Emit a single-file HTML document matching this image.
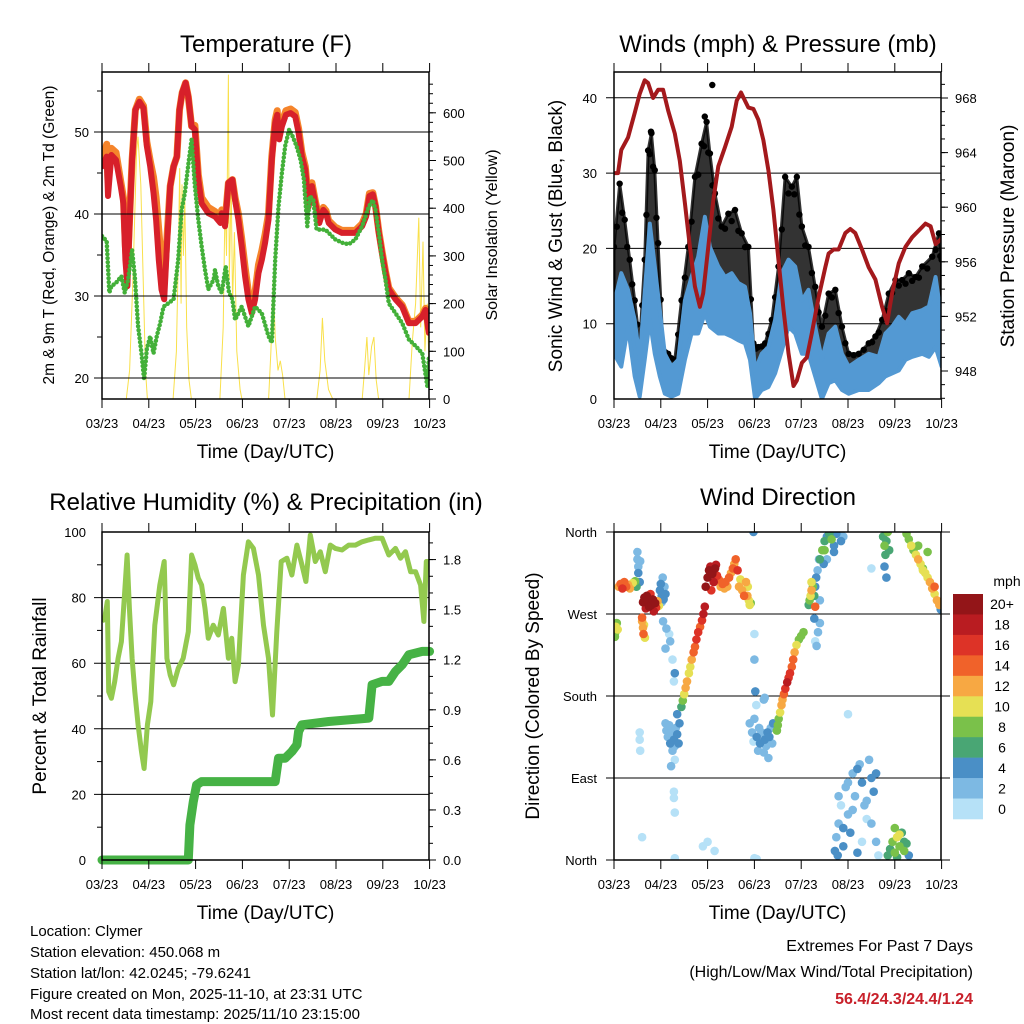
<!DOCTYPE html>
<html><head><meta charset="utf-8"><style>
html,body{margin:0;padding:0;background:#fff;}
svg{display:block;font-family:"Liberation Sans",Arial,sans-serif;}
</style></head><body>
<svg id="fig" width="1024" height="1024" viewBox="0 0 1024 1024" xmlns="http://www.w3.org/2000/svg">
<defs>
<clipPath id="c1"><rect x="102" y="72" width="327" height="327"/></clipPath>
<clipPath id="c2"><rect x="614" y="72" width="327" height="327"/></clipPath>
<clipPath id="c3"><rect x="102" y="532" width="327" height="328"/></clipPath>
<clipPath id="c4"><rect x="614" y="532" width="327" height="328"/></clipPath>
</defs>
<g id="p1"></g>
<g id="p2"></g>
<g id="p3"></g>
<g id="p4"></g>
<g font-size="15">
<text x="30" y="936">Location: Clymer</text>
<text x="30" y="957">Station elevation: 450.068 m</text>
<text x="30" y="978">Station lat/lon: 42.0245; -79.6241</text>
<text x="30" y="999">Figure created on Mon, 2025-11-10, at 23:31 UTC</text>
<text x="30" y="1019">Most recent data timestamp: 2025/11/10 23:15:00</text>
</g>
<g font-size="16" text-anchor="end">
<text x="973" y="951">Extremes For Past 7 Days</text>
<text x="973" y="977">(High/Low/Max Wind/Total Precipitation)</text>
<text x="973" y="1004" fill="#c8202a" font-weight="bold">56.4/24.3/24.4/1.24</text>
</g>
</svg>
<script>
// ---------- DATA ----------
const dayLabels = ["03/23","04/23","05/23","06/23","07/23","08/23","09/23","10/23"];
const tempTicks = [20,30,40,50];
const solarTicks = [0,100,200,300,400,500,600];
const windTicks = [0,10,20,30,40];
const presTicks = [948,952,956,960,964,968];
const rhTicks = [0,20,40,60,80,100];
const precipTicks = [0.0,0.3,0.6,0.9,1.2,1.5,1.8];
const dirTicks = [0,90,180,270,360];
const dirTickLabels = ["North","East","South","West","North"];
const speedBinLabels = ["20+","18","16","14","12","10","8","6","4","2","0"];
const speedBinColors = ["#931518","#b91c21","#dd3327","#f0622a","#f7a843","#e6e054","#7ac14a","#49a674","#4a8fc6","#7db9e3","#b6e1f7"];

const tempTime = [0,0.1,0.129,0.2,0.3,0.4,0.457,0.5,0.543,0.6,0.643,0.714,0.8,0.886,0.957,1.029,1.1,1.157,1.214,1.271,1.329,1.386,1.457,1.529,1.6,1.657,1.714,1.786,1.843,1.914,1.986,2.057,2.129,2.271,2.414,2.529,2.557,2.629,2.7,2.786,2.843,2.914,2.986,3.057,3.129,3.2,3.271,3.343,3.414,3.486,3.557,3.629,3.7,3.743,3.786,3.843,3.929,4.029,4.129,4.2,4.271,4.343,4.414,4.486,4.557,4.643,4.729,4.786,4.843,4.986,5.129,5.271,5.414,5.557,5.643,5.714,5.786,5.843,5.914,5.986,6.057,6.129,6.271,6.414,6.557,6.7,6.843,6.914,6.986];
const temp2m = [45.8,47,42.2,47.2,46.6,43.4,41.3,34.4,31.2,40.5,46.6,52.7,53.7,52.9,48.3,45.8,42.6,39.3,34.4,30.8,29.6,36.1,43.4,45.8,47,52.7,54.8,56,54.3,50.7,50.3,44.2,41.3,40.1,39.7,38.9,40.1,38.5,43.8,44.2,41.7,39.3,36.1,32.4,29.6,27.9,29.6,32.8,34.4,36.5,39.3,46.6,51.1,52.1,49.1,50.7,52.1,52.3,51.9,49.9,47,45.4,40.9,43.4,41.3,38.9,40.5,40.1,38.9,38.1,37.7,37.7,37.7,38.5,39.7,42.2,42.4,40.9,37.7,35.2,32.8,30.8,29.6,28.7,26.7,26.7,27.5,28.3,25.5];
const temp9m = [46.5,48.5,44,48,47.5,44,42,36,33,41,46.6,52.7,54,53.2,48.8,46.5,44.5,42,38,34,31.5,37,43.4,45.8,47,52.7,54.8,56,54.3,50.7,50.8,44.8,42,40.8,40.3,39.5,40.5,39,43.8,44.2,42,40,37,33.5,30.5,28.8,30.5,33.8,35.5,37.5,40,47,51.5,52.6,49.6,51.2,52.6,52.8,52.4,50.4,47.5,45.8,41.5,43.8,41.6,39.3,40.8,40.4,39.2,38.4,38,38,38,38.8,40,42.5,42.6,41,37.9,35.4,33,31,29.8,28.9,26.9,26.9,27.7,28.5,25.7];
const dewTime = [0,0.1,0.157,0.2,0.3,0.414,0.486,0.557,0.643,0.7,0.771,0.843,0.9,0.957,1.029,1.1,1.171,1.243,1.314,1.414,1.529,1.629,1.7,1.771,1.857,1.914,1.986,2.057,2.129,2.2,2.271,2.386,2.414,2.486,2.557,2.643,2.714,2.786,2.843,2.986,3.129,3.271,3.414,3.557,3.629,3.7,3.771,3.843,3.914,4,4.071,4.157,4.243,4.314,4.386,4.443,4.514,4.586,4.671,4.771,4.843,4.986,5.129,5.271,5.414,5.557,5.7,5.786,5.843,5.914,5.986,6.057,6.129,6.271,6.414,6.557,6.7,6.843,6.95,6.986];
const dew2m = [37.3,36.7,30.4,31.2,31.6,32.4,30.4,32,35.6,32.4,26.3,23,19.8,23.5,25.1,23,25.1,26.7,28.7,29.1,29.6,34.4,40.5,42.6,46.6,49.1,43.4,39.3,36.1,33.2,30.8,32,33.2,31.2,30.4,33.6,30.4,29.6,27.1,28.7,26.3,28.7,27.9,25.1,24.3,34.4,40.9,45,48.3,50.3,49.5,48.3,46.6,44.2,38.5,42.2,41.7,38.1,38.1,38.1,37.7,36.9,36.5,36.3,36.9,38.5,40.9,41.7,40.5,37.7,34.4,32,29.1,27.9,26.7,24.7,23.9,23,19,22.6];
const solarTime = [0,0.52,0.59,0.66,0.74,0.77,0.83,0.88,0.93,0.97,1.52,1.59,1.63,1.66,1.69,1.71,1.74,1.77,1.81,1.86,1.91,2.52,2.59,2.63,2.66,2.7,2.72,2.76,2.79,2.83,2.88,2.95,2.99,3.56,3.61,3.66,3.7,3.76,3.81,3.86,3.91,4.59,4.66,4.71,4.76,4.84,4.93,5.56,5.61,5.66,5.7,5.76,5.81,5.86,5.91,6.56,6.63,6.7,6.77,6.81,6.86,6.9,6.95,6.99];
const solarVal = [0,0,60,250,520,550,450,250,60,0,0,100,300,484,200,450,300,420,150,40,0,0,150,420,300,680,250,450,200,350,100,20,0,0,100,250,130,60,80,50,0,0,60,170,80,20,0,0,60,130,50,110,130,40,0,0,120,200,380,150,330,100,200,60];

const presTime = [0,0.086,0.157,0.3,0.443,0.55,0.657,0.729,0.836,0.943,1.05,1.157,1.3,1.407,1.514,1.621,1.729,1.836,1.907,2.014,2.121,2.229,2.371,2.514,2.621,2.714,2.8,2.871,2.979,3.086,3.193,3.3,3.407,3.514,3.621,3.729,3.836,3.907,4.014,4.121,4.229,4.371,4.514,4.586,4.693,4.8,4.943,5.05,5.157,5.3,5.443,5.586,5.729,5.836,5.943,6.086,6.229,6.371,6.514,6.657,6.764,6.871,7];
const presVal = [962.5,962.5,964.2,965.1,966.9,968.3,969.3,969.1,968,968.6,968.6,967.1,965.4,963.4,960.3,957.1,954.2,952.7,953.7,957.1,960.5,963,964.4,965.9,967.8,968.4,967.8,967.3,967.2,966.4,964.9,962.7,959.8,956.1,952.5,949.3,946.9,947.3,948.6,949,950.8,953.4,955.6,956.6,956.9,956.9,958.1,958.4,958.1,956.9,955.6,954.7,952.7,951.5,953.7,955.9,957.1,957.8,958.3,958.8,958.6,957.3,957.7];
const windTime = [0,0.157,0.3,0.443,0.55,0.657,0.764,0.871,0.979,1.086,1.229,1.371,1.514,1.657,1.8,1.943,2.05,2.229,2.371,2.514,2.657,2.8,2.907,3.014,3.157,3.3,3.443,3.586,3.729,3.871,4.014,4.157,4.3,4.443,4.586,4.729,4.871,5.014,5.229,5.443,5.657,5.8,5.943,6.086,6.229,6.371,6.586,6.729,6.871,7];
const windHi = [12.7,16.7,14.5,10.5,5.2,14,23.3,17.6,11.8,6,4.3,5.2,13.1,16.2,18.9,24.2,20.2,17.6,16.2,16.7,15.4,14.9,11.4,3.8,6,6.9,10.5,16.7,18.5,17.6,13.1,14.5,9.6,5.2,8.7,9.6,6,4.3,5.2,6,5.6,8.7,9.6,10.9,10,11.4,11.8,12.3,16.2,10.5];
const windLo = [6,4.3,9.6,3,0.3,5.2,10.5,6,3,0.7,0.3,0.7,5.2,8.7,8.7,11.4,9.6,8.7,8.7,8.3,7.8,7.4,5.2,0,1.2,1.6,3.4,6.4,9.6,8.7,6,6,3,0,2.1,2.5,1.2,0.7,1.2,1.2,2.1,3,3.4,3.8,5.2,5.6,6,5.6,6.9,4.3];
const gustTime = [0,0.121,0.229,0.336,0.443,0.55,0.657,0.729,0.8,0.871,0.943,1.05,1.157,1.3,1.443,1.586,1.729,1.871,1.979,2.05,2.157,2.3,2.443,2.586,2.729,2.871,2.979,3.086,3.229,3.371,3.514,3.657,3.8,3.907,4.014,4.157,4.3,4.443,4.586,4.729,4.871,5.014,5.229,5.443,5.586,5.729,5.871,6.014,6.157,6.3,6.443,6.586,6.8,6.943,7];
const gustHi = [20.2,28.6,23.8,18.5,13.1,7.4,18.5,33,35.3,30.4,20.7,6.5,6,5.2,13.1,20.2,29.5,33.9,36.8,32.6,27.3,22.9,24.6,25.1,22,20.2,7.4,6.9,7.4,10.5,17.6,29.5,28.2,29.5,22.9,20.2,14.9,9.6,14,14.5,9.6,6,6,7.4,8.3,10.5,14,15.8,15.8,16.7,16.2,17.6,18.9,22,18.5];
const gustOutT = [2.1,0.79,1.94];
const gustOutV = [41.7,35.5,37.5];

const rhTime = [0,0.057,0.114,0.143,0.2,0.271,0.343,0.414,0.486,0.536,0.586,0.643,0.7,0.771,0.843,0.9,0.971,1.043,1.129,1.236,1.329,1.386,1.457,1.529,1.629,1.736,1.843,1.914,1.986,2.057,2.129,2.2,2.271,2.379,2.486,2.593,2.7,2.771,2.843,2.914,3.021,3.129,3.236,3.343,3.45,3.557,3.643,3.736,3.829,3.95,4.057,4.164,4.271,4.357,4.45,4.557,4.664,4.771,4.879,4.986,5.129,5.271,5.414,5.557,5.7,5.843,5.986,6.129,6.271,6.379,6.486,6.593,6.7,6.807,6.879,6.929,7];
const rhVal = [72.7,73.7,78.8,51.3,49.3,54.4,61.5,66.6,81.8,93,76.7,61.5,51.3,41.2,33,27.9,41.2,48.3,71.6,83.8,91,61.5,56.4,53.4,58.4,61.5,69.6,93,90,85.9,83.8,76.7,67.6,71.6,68.6,76.7,61.5,67.6,54.4,59.5,86.9,97,95,86.9,71.6,61.5,44.2,69.6,91,92,86.9,96,90,84.9,99.1,91,94,87.9,96,95,94.5,96,96,97,97.6,98.1,98.1,93,95,92,94,87.9,87.9,83.8,72.7,91,91];
const precipTime = [0,1.843,1.879,1.95,2.021,2.129,3.7,3.771,3.914,4.057,4.164,4.2,4.271,4.843,5.7,5.771,5.986,6.129,6.271,6.414,6.557,6.843,7];
const precipVal = [0,0,0.21,0.35,0.45,0.47,0.47,0.61,0.61,0.65,0.69,0.77,0.81,0.83,0.85,1.05,1.07,1.07,1.13,1.17,1.23,1.25,1.25];

const dirTime = [0.02,0.03,0.04,0.06,0.08, 0.1,0.14,0.18,0.22,0.26,0.3,0.34,0.4,0.45,0.48, 0.5,0.52,0.52,0.55,0.5,0.56, 0.62,0.65,0.68,0.7,0.72,0.75,0.78,0.8,0.83,0.85,0.88,0.9,0.93,0.96, 0.6,0.62,0.63,0.66,0.64,0.6, 0.98,1.0,1.02,1.04,1.06,1.08,1.1,1.02, 1.05,1.12,1.18,1.1,1.2,1.25,1.28,1.3, 1.1,1.12,1.15,1.18,1.2,1.23,1.25,1.28,1.3,1.32,1.35,1.38,1.4,1.35,1.3,1.22, 0.55,0.55,0.56,1.28,1.28,1.3,1.3, 1.44,1.47,1.5,1.53,1.56,1.6,1.63,1.66,1.7,1.73,1.76,1.8,1.84,1.88,1.91,1.94, 1.96,2.0,2.03,2.06,2.1,2.13,2.16,2.2,2.24,2.28,2.32,2.36,2.08,2.18, 2.38,2.42,2.46,2.5,2.54,2.57,2.6,2.64,2.67,2.7,2.74,2.78,2.82,2.86, 2.88,2.9,2.92,2.85, 2.9,2.95,2.98,3.0,3.05,3.08,3.1,3.12,3.15,3.2,3.22,3.25,3.28,3.3,3.32,3.35,3.38,3.4, 2.98,3.0,3.0,3.02,3.04,3.2,3.22, 3.48,3.5,3.52,3.55,3.58,3.6,3.63,3.66,3.7,3.73,3.76,3.8,3.83,3.86,3.9,3.95,4.0,4.05, 4.16,4.18,4.2,4.22,4.25,4.28,4.3,4.22, 4.3,4.32,4.35,4.38,4.4,4.36,4.3,4.33,4.28,4.4, 4.4,4.45,4.5,4.55,4.6,4.65,4.7,4.75,4.8,4.85,4.9,4.5,4.6,4.55,4.7,4.48, 4.72,4.75,4.78,4.8,4.85,4.9,4.95,5.0,5.05,5.1,5.15,5.2,5.25,5.3,5.35,5.4,5.45,5.5,5.55,5.6,5.65,4.8,4.9,5.0,5.1,5.2,5.3,5.4,5.5,5.6, 5.75,5.78,5.8,5.82,5.85,5.88,5.78,5.82, 5.85,5.9,5.95,6.0,6.05,6.1,6.15,6.2,6.25,6.3,6.0,6.1,6.2,6.05, 6.25,6.3,6.35,6.4,6.45,6.5,6.55,6.6,6.65,6.7,6.75,6.8,6.85,6.9,6.95,6.98,6.5,6.6,6.7,6.85, 1.9,2.0,2.15,3.0,3.05,5.0,5.5,0.6];
const dirDeg = [245,250,256,260,253, 300,303,298,305,300,302,298,304,306,300, 330,322,315,305,338,328, 283,288,276,290,285,278,292,280,286,273,282,277,284,279, 262,255,248,244,258,266, 296,303,290,310,286,300,292,283, 262,254,248,232,240,220,196,205, 150,142,135,148,128,140,120,132,125,145,138,128,150,160,110,103, 140,132,120,75,68,52,2, 168,175,182,189,196,205,212,220,228,234,242,250,256,263,270,278, 300,310,318,322,314,305,320,312,308,300,303,298,296,324, 305,300,310,315,320,325,330,318,300,308,296,290,305,300, 285,280,282,290, 150,140,130,155,135,120,145,128,140,118,132,125,140,112,135,145,128,150, 360,248,220,185,170,176,178, 142,148,155,162,170,176,182,188,195,200,205,212,220,228,236,242,246,250, 280,285,290,296,300,290,278,305, 300,310,318,330,260,250,240,235,265,285, 330,340,350,355,358,352,345,358,360,350,355,340,358,330,338,325, 10,25,5,40,60,15,80,50,30,95,70,8,105,85,60,45,110,90,75,20,5,70,35,85,55,100,20,65,40,95, 355,345,335,350,360,340,322,310, 5,12,20,8,25,15,30,10,18,5,35,28,20,3, 358,352,345,340,335,330,325,320,315,310,305,298,292,285,280,275,345,318,338,300, 15,20,10,2,1,160,320,25];
const dirSpeed = [8,9,10,8,10, 13,14,16,15,14,13,12,10,8,6, 3,2,4,4,2,3, 20,20,18,20,20,20,16,20,20,18,20,16,12,10, 12,12,14,10,10,14, 4,4,4,3,4,2,4,2, 2,2,1,2,2,1,0,4, 2,2,2,2,4,2,2,4,2,2,4,4,4,4,1,2, 0,1,0,1,0,1,0, 6,8,10,12,12,10,10,12,14,14,16,16,14,16,18,18, 20,20,20,18,20,18,20,16,14,12,14,12,16,18, 14,12,14,12,14,12,14,16,12,10,12,14,12,10, 10,10,8,12, 2,2,1,2,4,2,2,4,2,2,4,2,4,2,4,2,2,4, 4,1,2,4,1,2,2, 8,8,8,10,12,12,14,16,18,16,16,14,14,12,10,8,8,8, 6,8,10,12,8,6,14,10, 4,4,2,2,2,2,1,2,4,2, 6,8,6,4,6,8,4,4,2,4,2,8,6,2,4,4, 4,2,4,2,1,4,2,2,4,2,2,4,2,4,2,1,2,4,4,2,1,2,4,2,2,4,1,2,2,4, 6,8,6,6,8,6,4,4, 6,6,8,8,10,8,6,8,6,4,8,10,6,6, 8,8,10,8,10,12,10,8,10,10,12,12,10,12,12,4,8,10,8,14, 0,0,1,0,0,1,0,0];

// ---------- HELPERS ----------
const NS = "http://www.w3.org/2000/svg";
function mk(parent, tag, attrs, text){
  const e = document.createElementNS(NS, tag);
  for (const k in attrs) e.setAttribute(k, attrs[k]);
  if (text !== undefined) e.textContent = text;
  parent.appendChild(e);
  return e;
}
function linePath(ts, vs, fx, fy){
  const n = Math.min(ts.length, vs.length);
  let d = "";
  for (let i=0;i<n;i++) d += (i?"L":"M") + fx(ts[i]).toFixed(1) + "," + fy(vs[i]).toFixed(1);
  return d;
}
function interp(ts, vs, t){
  const n = Math.min(ts.length, vs.length);
  if (t <= ts[0]) return vs[0];
  for (let i=1;i<n;i++){
    if (t <= ts[i]){ const f=(t-ts[i-1])/(ts[i]-ts[i-1]); return vs[i-1]+f*(vs[i]-vs[i-1]); }
  }
  return vs[n-1];
}
const pxPerDay = 46.8;

function frameAndTime(g, x0, y0, w, h, xb){
  const f = mk(g,"rect",{x:x0,y:y0,width:w,height:h,fill:"none",stroke:"#000","stroke-width":1.5});
  
  
  for (let i=0;i<dayLabels.length;i++){
    const x = x0 + i*pxPerDay;
    const tb = mk(g,"line",{x1:x,x2:x,y1:y0+h,y2:y0+h+9,stroke:"#000","stroke-width":1});
    
    
    const tt = mk(g,"line",{x1:x,x2:x,y1:y0,y2:y0-9,stroke:"#000","stroke-width":1});
    
    
    const lb = mk(g,"text",{x:x,y:y0+h+29,"font-size":13,"text-anchor":"middle"},dayLabels[i]);
    
    
  }
  const xt = mk(g,"text",{x:x0+w/2,y:xb,"font-size":19,"text-anchor":"middle"},"Time (Day/UTC)");
  
  
}
function grid(g, ys, x1, x2){
  ys.forEach(y=>{
    const l = mk(g,"line",{x1:x1,x2:x2,y1:y,y2:y,stroke:"#000","stroke-width":1});
    
    
  });
}
function title(g, x, y, s, name){
  const t = mk(g,"text",{x:x,y:y,"font-size":24,"text-anchor":"middle"},s);
  
  
}
function vtitle(g, x, y, s, fs, name){
  const t = mk(g,"text",{x:x,y:y,"font-size":fs,"text-anchor":"middle",transform:"rotate(-90 "+x+" "+y+")"},s);
  
  
}
function rightAxis(g, xr, vals, fy, labels, minorStep, vmin, vmax, name){
  for (let v=vmin; v<=vmax+1e-9; v+=minorStep){
    const y = fy(v);
    const m = mk(g,"line",{x1:xr,x2:xr+4,y1:y,y2:y,stroke:"#000","stroke-width":1});
    
    
  }
  vals.forEach((v,i)=>{
    const y = fy(v);
    const t = mk(g,"line",{x1:xr,x2:xr+7,y1:y,y2:y,stroke:"#000","stroke-width":1});
    
    
    const l = mk(g,"text",{x:xr+14,y:y+5,"font-size":13},labels[i]);
    
    
  });
}
function leftLabels(g, xl, vals, fy, labels, name){
  vals.forEach((v,i)=>{
    const l = mk(g,"text",{x:xl,y:fy(v)+5,"font-size":13,"text-anchor":"end"},labels[i]);
    
    
  });
}

// ---------- PANEL 1: TEMPERATURE ----------
(function(){
  const g = document.getElementById("p1");
  const X = t => 102 + t*pxPerDay;
  const YT = v => 378 - (v-20)*8.2;
  const YS = s => 399 - s*0.477;
  title(g, 266, 52, "Temperature (F)", "temperature-title");
  const pg = mk(g,"g",{"clip-path":"url(#c1)"});
  
  
  const sol = mk(pg,"path",{d:linePath(solarTime,solarVal,X,YS),fill:"none",stroke:"#f9e04b","stroke-width":1});
  
  
  grid(g, tempTicks.map(YT), 94, 429);
  [25,35,45,55].forEach(v=>{ const m=mk(g,"line",{x1:97,x2:102,y1:YT(v),y2:YT(v),stroke:"#000"});
    
     });
  const o = mk(pg,"path",{d:linePath(tempTime,temp9m,X,YT),fill:"none",stroke:"#f5842b","stroke-width":7,"stroke-linejoin":"round","stroke-linecap":"round"});
  
  
  const r = mk(pg,"path",{d:linePath(tempTime,temp2m,X,YT),fill:"none",stroke:"#d7202a","stroke-width":6,"stroke-linejoin":"round","stroke-linecap":"round"});
  
  
  const d = mk(pg,"path",{d:linePath(dewTime,dew2m,X,YT),fill:"none",stroke:"#43b039","stroke-width":4.5,"stroke-dasharray":"0 4","stroke-linecap":"round"});
  
  
  frameAndTime(g, 102, 72, 327, 327, 458);
  leftLabels(g, 89, tempTicks, YT, tempTicks.map(String), "temp");
  rightAxis(g, 429, solarTicks, YS, solarTicks.map(String), 20, 0, 660, "solar");
  vtitle(g, 54, 235, "2m & 9m T (Red, Orange) & 2m Td (Green)", 15.5, "temp-axis-title");
  vtitle(g, 497, 235, "Solar Insolation (Yellow)", 16, "solar-axis-title");
})();

// ---------- PANEL 2: WINDS ----------
(function(){
  const g = document.getElementById("p2");
  const X = t => 614 + t*pxPerDay;
  const YW = w => 399 - w*7.53;
  const YP = p => 371 - (p-948)*13.65;
  title(g, 778, 52, "Winds (mph) & Pressure (mb)", "winds-title");
  grid(g, windTicks.filter(v=>v>0).map(YW), 606, 941);
  const pg = mk(g,"g",{"clip-path":"url(#c2)"});
  
  
  let d = linePath(gustTime,gustHi,X,YW);
  for (let i=windTime.length-1;i>=0;i--) d += "L"+X(windTime[i]).toFixed(1)+","+YW(windLo[i]).toFixed(1);
  const gc = mk(pg,"path",{d:d+"Z",fill:"#000","fill-opacity":0.8,stroke:"#000","stroke-width":3,"stroke-linejoin":"round","stroke-opacity":0.8});
  
  
  for (let i=0;i<gustTime.length;i++){
    const c = mk(pg,"circle",{cx:X(gustTime[i]),cy:YW(gustHi[i]),r:3.2,fill:"#000"});
    
    
    if (i>0){
      const tm = (gustTime[i]+gustTime[i-1])/2;
      const vm = (gustHi[i]+gustHi[i-1])/2;
      const lo = interp(windTime, windHi, tm);
      const c2 = mk(pg,"circle",{cx:X(tm),cy:YW(lo+(vm-lo)*0.85),r:3.2,fill:"#000"});
      
      
    }
  }
  for (let i=0;i<gustOutT.length;i++){
    const c = mk(pg,"circle",{cx:X(gustOutT[i]),cy:YW(gustOutV[i]),r:3.2,fill:"#000"});
    
    
  }
  let b = linePath(windTime,windHi,X,YW);
  for (let i=windTime.length-1;i>=0;i--) b += "L"+X(windTime[i]).toFixed(1)+","+YW(windLo[i]).toFixed(1);
  const bc = mk(pg,"path",{d:b+"Z",fill:"#5399d3",stroke:"#5399d3","stroke-width":4,"stroke-linejoin":"round"});
  
  
  const p = mk(pg,"path",{d:linePath(presTime,presVal,X,YP),fill:"none",stroke:"#a3191c","stroke-width":4,"stroke-linejoin":"round"});
  
  
  frameAndTime(g, 614, 72, 327, 327, 458);
  leftLabels(g, 597, windTicks, YW, windTicks.map(String), "wind");
  rightAxis(g, 941, presTicks, YP, presTicks.map(String), 1, 946, 969, "pressure");
  vtitle(g, 562, 236, "Sonic Wind & Gust (Blue, Black)", 19, "wind-axis-title");
  vtitle(g, 1014, 236, "Station Pressure (Maroon)", 19, "pressure-axis-title");
})();

// ---------- PANEL 3: RH & PRECIP ----------
(function(){
  const g = document.getElementById("p3");
  const X = t => 102 + t*pxPerDay;
  const YR = v => 860 - v*3.28;
  const YPr = v => 860 - v*166.9;
  title(g, 266, 510, "Relative Humidity (%) & Precipitation (in)", "humidity-title");
  grid(g, rhTicks.filter(v=>v>0&&v<100).map(YR), 94, 429);
  const pg = mk(g,"g",{"clip-path":"url(#c3)"});
  
  
  const pr = mk(g,"path",{d:linePath(precipTime,precipVal,X,YPr),fill:"none",stroke:"#46b245","stroke-width":9,"stroke-linecap":"round","stroke-linejoin":"round"});
  
  
  const rh = mk(pg,"path",{d:linePath(rhTime,rhVal,X,YR),fill:"none",stroke:"#93c94f","stroke-width":5,"stroke-linejoin":"round"});
  
  
  frameAndTime(g, 102, 532, 327, 328, 919);
  [10,30,50,70,90].forEach(v=>{ const m=mk(g,"line",{x1:97,x2:102,y1:YR(v),y2:YR(v),stroke:"#000"});
    
     });
  leftLabels(g, 86, rhTicks, YR, rhTicks.map(String), "rh");
  rightAxis(g, 429, precipTicks, YPr, precipTicks.map(v=>v.toFixed(1)), 0.1, 0, 1.95, "precip");
  vtitle(g, 46, 696, "Percent & Total Rainfall", 19, "rh-axis-title");
})();

// ---------- PANEL 4: WIND DIRECTION ----------
(function(){
  const g = document.getElementById("p4");
  const X = t => 614 + t*pxPerDay;
  const YD = d => 860 - d*0.9111;
  title(g, 778, 505, "Wind Direction", "wind-direction-title");
  grid(g, dirTicks.map(YD), 606, 950);
  const pg = mk(g,"g",{"clip-path":"url(#c4)"});
  
  
  const binOf = s => Math.max(0, 10 - Math.min(10, Math.floor(s/2)));
  const order = dirTime.map((_,i)=>i).sort((a,b)=>dirSpeed[a]-dirSpeed[b]);
  order.forEach(i=>{
    const c = mk(pg,"circle",{cx:X(dirTime[i]).toFixed(1),cy:YD(dirDeg[i]).toFixed(1),r:4.3,fill:speedBinColors[binOf(dirSpeed[i])]});
    
    
  });
  frameAndTime(g, 614, 532, 327, 328, 919);
  leftLabels(g, 597, dirTicks, YD, dirTickLabels, "direction");
  vtitle(g, 539, 696, "Direction (Colored By Speed)", 19, "direction-axis-title");
  const cb = mk(g,"g",{});
  
  
  const bh = 225/speedBinColors.length;
  speedBinColors.forEach((c,i)=>{
    const r = mk(cb,"rect",{x:953,y:594+i*bh,width:30,height:bh+0.3,fill:c});
    
    
    const l = mk(cb,"text",{x:1002,y:594+i*bh+bh/2+5,"font-size":14,"text-anchor":"middle"},speedBinLabels[i]);
    
    
  });
  const u = mk(cb,"text",{x:1007,y:586,"font-size":14,"text-anchor":"middle"},"mph");
  
  
})();
</script>
</body></html>
